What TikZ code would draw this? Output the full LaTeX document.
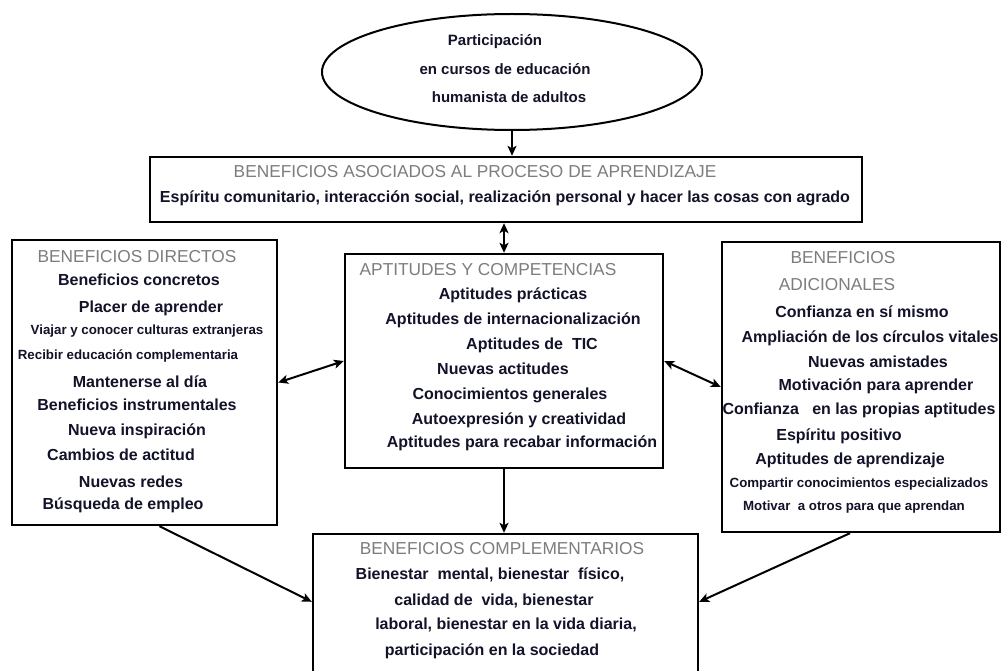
\documentclass[tikz,border=0pt]{standalone}
\usepackage{fontspec}
\setmainfont{Liberation Sans}
\usetikzlibrary{shapes.geometric,arrows.meta}
\definecolor{txt}{RGB}{18,18,40}
\definecolor{hdr}{RGB}{125,125,125}
\tikzset{
  boxx/.style={draw, line width=2.4pt, inner sep=0pt},
  ellx/.style={draw, ellipse, line width=2pt, inner sep=0pt, minimum width=380pt, minimum height=116pt},
  tl/.style={inner sep=0pt, anchor=mid, text=txt, font=\bfseries\fontsize{16}{18}\selectfont},
  tm/.style={inner sep=0pt, anchor=mid, text=txt, font=\bfseries\fontsize{15}{17}\selectfont},
  ts/.style={inner sep=0pt, anchor=mid, text=txt, font=\bfseries\fontsize{13.3}{15}\selectfont},
  hd/.style={inner sep=0pt, anchor=mid, yshift=-2pt, text=hdr, font=\fontsize{17.3}{19}\selectfont},
  tip/.tip={Stealth[length=10pt,width=9pt,inset=2.5pt]},
  arr/.style={line width=2pt, -tip},
  darr/.style={line width=2pt, tip-tip},
}
\begin{document}
\begin{tikzpicture}[x=1pt,y=-1pt]
\useasboundingbox (0,0) rectangle (1004,671);
\clip (0,0) rectangle (1004,671);
\fill[white] (0,0) rectangle (1004,671);

% shapes
\node[ellx] (ell) at (512,72) {};
\node[boxx, minimum width=712pt, minimum height=65pt] (top) at (506,189.5) {};
\node[boxx, minimum width=265pt, minimum height=285pt] (dir) at (144.5,382.5) {};
\node[boxx, minimum width=318pt, minimum height=214pt] (cen) at (504,361) {};
\node[boxx, minimum width=278pt, minimum height=290pt] (adi) at (861,387) {};
\node[boxx, minimum width=385pt, minimum height=160pt] (comp) at (505.5,614) {};

% ellipse text
\node[tm] (e0) at (495,43) {Participación};
\node[tm] (e1) at (505,72) {en cursos de educación};
\node[tm] (e2) at (509,100) {humanista de adultos};

% top box
\node[hd] (t0) at (475,173) {BENEFICIOS ASOCIADOS AL PROCESO DE APRENDIZAJE};
\node[tl] (t1) at (505,200) {Espíritu comunitario, interacción social, realización personal y hacer las cosas con agrado};

% left box
\node[hd] (l0) at (137,258) {BENEFICIOS DIRECTOS};
\node[tl] (l1) at (139,283) {Beneficios concretos};
\node[tl] (l2) at (151,310) {Placer de aprender};
\node[ts] (l3) at (147,332) {Viajar y conocer culturas extranjeras};
\node[ts] (l4) at (128,357) {Recibir educación complementaria};
\node[tl] (l5) at (140,385) {Mantenerse al día};
\node[tl] (l6) at (137,408) {Beneficios instrumentales};
\node[tl] (l7) at (137,433) {Nueva inspiración};
\node[tl] (l8) at (121,458) {Cambios de actitud};
\node[tl] (l9) at (131,485) {Nuevas redes};
\node[tl] (l10) at (123,507) {Búsqueda de empleo};

% center box
\node[hd] (c0) at (488,271) {APTITUDES Y COMPETENCIAS};
\node[tl] (c1) at (513,297) {Aptitudes prácticas};
\node[tl] (c2) at (513,322) {Aptitudes de internacionalización};
\node[tl] (c3) at (532,347) {Aptitudes de\ \ TIC};
\node[tl] (c4) at (503,372) {Nuevas actitudes};
\node[tl] (c5) at (510,397) {Conocimientos generales};
\node[tl] (c6) at (519,422) {Autoexpresión y creatividad};
\node[tl] (c7) at (522,445) {Aptitudes para recabar información};

% right box
\node[hd] (r0) at (843,259) {BENEFICIOS};
\node[hd] (r1) at (837,286) {ADICIONALES};
\node[tl] (r2) at (862,315) {Confianza en sí mismo};
\node[tl] (r3) at (870,340) {Ampliación de los círculos vitales};
\node[tl] (r4) at (878,365) {Nuevas amistades};
\node[tl] (r5) at (876,388) {Motivación para aprender};
\node[tl] (r6) at (859,412) {Confianza\ \ \ en las propias aptitudes};
\node[tl] (r7) at (839,438) {Espíritu positivo};
\node[tl] (r8) at (850,462) {Aptitudes de aprendizaje};
\node[ts] (r9) at (859,485) {Compartir conocimientos especializados};
\node[ts] (r10) at (854,508) {Motivar\ \ a otros para que aprendan};

% bottom box
\node[hd] (b0) at (502,550) {BENEFICIOS COMPLEMENTARIOS};
\node[tl] (b1) at (490,577) {Bienestar\ \ mental, bienestar\ \ físico,};
\node[tl] (b2) at (494,603) {calidad de\ \ vida, bienestar};
\node[tl] (b3) at (506,627) {laboral, bienestar en la vida diaria,};
\node[tl] (b4) at (492,653) {participación en la sociedad};

% connectors
\draw[arr] (ell.south) -- (ell.south |- top.north);
\draw[darr] (cen.north |- top.south) -- (cen.north);
\draw[darr] (dir.east) -- (cen.west);
\draw[darr] (cen.east) -- (adi.west);
\draw[arr] (cen.south) -- (cen.south |- comp.north);
\draw[arr] ([xshift=15pt]dir.south) -- ([yshift=-69pt]comp.north west);
\draw[arr] ([xshift=-11pt]adi.south) -- ([yshift=-69pt]comp.north east);
\end{tikzpicture}
\end{document}
